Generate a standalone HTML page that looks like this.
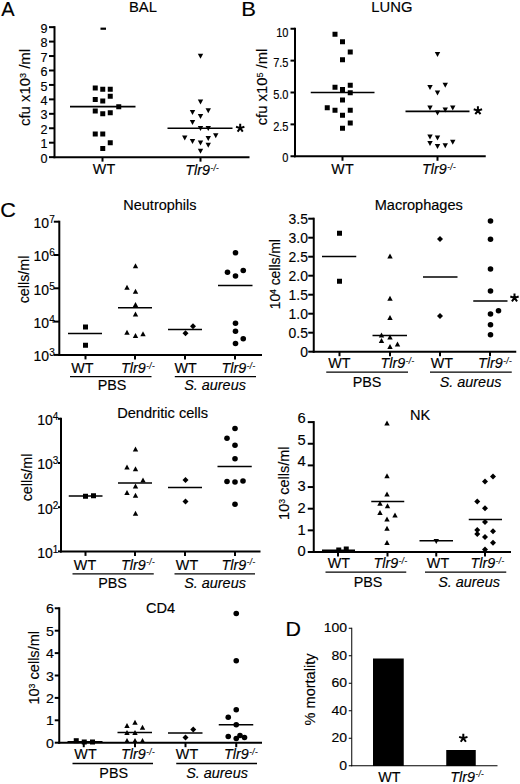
<!DOCTYPE html>
<html><head><meta charset="utf-8"><title>Figure</title>
<style>
html,body{margin:0;padding:0;background:#fff;}
body{width:520px;height:784px;overflow:hidden;font-family:"Liberation Sans",sans-serif;}
svg{display:block;}
svg text{font-family:"Liberation Sans",sans-serif;fill:#000;stroke:#000;stroke-width:0.15px;}
</style></head><body>
<svg width="520" height="784" viewBox="0 0 520 784">
<rect width="520" height="784" fill="#fff"/>
<g fill="#000">
<text transform="translate(1.2,16.2) scale(1.0,1)" font-size="20" text-anchor="start" >A</text>
<text transform="translate(129,11.9) scale(1.0,1)" font-size="14.8" text-anchor="start" >BAL</text>
<line x1="54.5" y1="26.15" x2="54.5" y2="158.15" stroke="#000" stroke-width="2.0"/>
<line x1="53.5" y1="157.15" x2="249.5" y2="157.15" stroke="#000" stroke-width="2.0"/>
<line x1="49.0" y1="157.15" x2="54.5" y2="157.15" stroke="#000" stroke-width="2.0"/>
<text transform="translate(47.5,162.75) scale(1.05,1)" font-size="12" text-anchor="end" >0</text>
<line x1="49.0" y1="142.70555555555555" x2="54.5" y2="142.70555555555555" stroke="#000" stroke-width="2.0"/>
<text transform="translate(47.5,148.30555555555554) scale(1.05,1)" font-size="12" text-anchor="end" >1</text>
<line x1="49.0" y1="128.26111111111112" x2="54.5" y2="128.26111111111112" stroke="#000" stroke-width="2.0"/>
<text transform="translate(47.5,133.86111111111111) scale(1.05,1)" font-size="12" text-anchor="end" >2</text>
<line x1="49.0" y1="113.81666666666666" x2="54.5" y2="113.81666666666666" stroke="#000" stroke-width="2.0"/>
<text transform="translate(47.5,119.41666666666666) scale(1.05,1)" font-size="12" text-anchor="end" >3</text>
<line x1="49.0" y1="99.37222222222223" x2="54.5" y2="99.37222222222223" stroke="#000" stroke-width="2.0"/>
<text transform="translate(47.5,104.97222222222223) scale(1.05,1)" font-size="12" text-anchor="end" >4</text>
<line x1="49.0" y1="84.92777777777778" x2="54.5" y2="84.92777777777778" stroke="#000" stroke-width="2.0"/>
<text transform="translate(47.5,90.52777777777777) scale(1.05,1)" font-size="12" text-anchor="end" >5</text>
<line x1="49.0" y1="70.48333333333333" x2="54.5" y2="70.48333333333333" stroke="#000" stroke-width="2.0"/>
<text transform="translate(47.5,76.08333333333333) scale(1.05,1)" font-size="12" text-anchor="end" >6</text>
<line x1="49.0" y1="56.03888888888889" x2="54.5" y2="56.03888888888889" stroke="#000" stroke-width="2.0"/>
<text transform="translate(47.5,61.63888888888889) scale(1.05,1)" font-size="12" text-anchor="end" >7</text>
<line x1="49.0" y1="41.59444444444445" x2="54.5" y2="41.59444444444445" stroke="#000" stroke-width="2.0"/>
<text transform="translate(47.5,47.19444444444445) scale(1.05,1)" font-size="12" text-anchor="end" >8</text>
<line x1="49.0" y1="27.150000000000006" x2="54.5" y2="27.150000000000006" stroke="#000" stroke-width="2.0"/>
<text transform="translate(47.5,32.75000000000001) scale(1.05,1)" font-size="12" text-anchor="end" >9</text>
<line x1="102.5" y1="157.15" x2="102.5" y2="161.65" stroke="#000" stroke-width="2.0"/>
<line x1="200.5" y1="157.15" x2="200.5" y2="161.65" stroke="#000" stroke-width="2.0"/>
<text transform="translate(104,174.4) scale(0.97,1)" font-size="14.8" text-anchor="middle" >WT</text>
<text transform="translate(202.2,174.8) scale(0.97,1)" font-size="14.8" text-anchor="middle" ><tspan font-style="italic">Tlr9</tspan><tspan font-style="italic" font-size="8.2" dy="-4.3" dx="0.5" letter-spacing="0.4">-/-</tspan></text>
<text transform="translate(30.4,87.5) rotate(-90) scale(1.027,1)" font-size="14.5" text-anchor="middle" >cfu x10<tspan font-size="8.8" dy="-4.3">3</tspan><tspan dy="4.3"> /ml</tspan></text>
<line x1="70" y1="106.6" x2="135.5" y2="106.6" stroke="#000" stroke-width="1.6"/>
<line x1="167.5" y1="128.2" x2="232.5" y2="128.2" stroke="#000" stroke-width="1.6"/>
<path d="M240.20 128.10L240.20 123.70M240.20 128.10L244.38 126.74M240.20 128.10L242.79 131.66M240.20 128.10L237.61 131.66M240.20 128.10L236.02 126.74" stroke="#000" stroke-width="2" fill="none"/>
<rect x="100.5" y="27.6" width="5.5" height="2.2"/>
<rect x="92.75" y="85.50" width="5" height="5"/>
<rect x="100.25" y="86.75" width="5" height="5"/>
<rect x="107.75" y="86.75" width="5" height="5"/>
<rect x="107.75" y="93.75" width="5" height="5"/>
<rect x="92.75" y="97.00" width="5" height="5"/>
<rect x="100.25" y="98.50" width="5" height="5"/>
<rect x="116.25" y="104.25" width="5" height="5"/>
<rect x="92.75" y="108.50" width="5" height="5"/>
<rect x="100.25" y="111.25" width="5" height="5"/>
<rect x="107.75" y="110.25" width="5" height="5"/>
<rect x="92.75" y="131.50" width="5" height="5"/>
<rect x="100.25" y="131.50" width="5" height="5"/>
<rect x="107.75" y="140.25" width="5" height="5"/>
<rect x="100.25" y="146.00" width="5" height="5"/>
<path d="M197.80 53.80L203.20 53.80L200.5 58.80Z"/>
<path d="M197.80 99.50L203.20 99.50L200.5 104.50Z"/>
<path d="M189.80 110.05L195.20 110.05L192.5 115.05Z"/>
<path d="M205.55 108.30L210.95 108.30L208.25 113.30Z"/>
<path d="M197.80 114.05L203.20 114.05L200.5 119.05Z"/>
<path d="M189.80 120.05L195.20 120.05L192.5 125.05Z"/>
<path d="M197.80 126.05L203.20 126.05L200.5 131.05Z"/>
<path d="M205.55 126.05L210.95 126.05L208.25 131.05Z"/>
<path d="M213.05 133.30L218.45 133.30L215.75 138.30Z"/>
<path d="M182.05 135.55L187.45 135.55L184.75 140.55Z"/>
<path d="M189.80 139.05L195.20 139.05L192.5 144.05Z"/>
<path d="M205.55 136.05L210.95 136.05L208.25 141.05Z"/>
<path d="M197.80 140.55L203.20 140.55L200.5 145.55Z"/>
<path d="M205.55 142.80L210.95 142.80L208.25 147.80Z"/>
<path d="M197.80 148.80L203.20 148.80L200.5 153.80Z"/>
<text transform="translate(241.2,15.9) scale(1.1,1)" font-size="20" text-anchor="start" >B</text>
<text transform="translate(371.3,11.7) scale(1.0,1)" font-size="14.8" text-anchor="start" >LUNG</text>
<line x1="295" y1="27.75" x2="295" y2="157.25" stroke="#000" stroke-width="2.0"/>
<line x1="294.0" y1="156.25" x2="485.75" y2="156.25" stroke="#000" stroke-width="2.0"/>
<line x1="290.5" y1="156.25" x2="295" y2="156.25" stroke="#000" stroke-width="2.0"/>
<text transform="translate(288.5,161.65) scale(0.92,1)" font-size="12" text-anchor="end" >0</text>
<line x1="290.5" y1="124.375" x2="295" y2="124.375" stroke="#000" stroke-width="2.0"/>
<text transform="translate(288.5,130.775) scale(0.92,1)" font-size="12" text-anchor="end" >2.5</text>
<line x1="290.5" y1="92.5" x2="295" y2="92.5" stroke="#000" stroke-width="2.0"/>
<text transform="translate(288.5,98.9) scale(0.92,1)" font-size="12" text-anchor="end" >5.0</text>
<line x1="290.5" y1="60.625" x2="295" y2="60.625" stroke="#000" stroke-width="2.0"/>
<text transform="translate(288.5,67.025) scale(0.92,1)" font-size="12" text-anchor="end" >7.5</text>
<line x1="290.5" y1="28.75" x2="295" y2="28.75" stroke="#000" stroke-width="2.0"/>
<text transform="translate(288.5,37.15) scale(0.92,1)" font-size="12" text-anchor="end" >10</text>
<line x1="342.5" y1="156.25" x2="342.5" y2="160.75" stroke="#000" stroke-width="2.0"/>
<line x1="437.5" y1="156.25" x2="437.5" y2="160.75" stroke="#000" stroke-width="2.0"/>
<text transform="translate(342.5,174) scale(0.97,1)" font-size="14.8" text-anchor="middle" >WT</text>
<text transform="translate(439,174.2) scale(0.97,1)" font-size="14.8" text-anchor="middle" ><tspan font-style="italic">Tlr9</tspan><tspan font-style="italic" font-size="8.2" dy="-4.3" dx="0.5" letter-spacing="0.4">-/-</tspan></text>
<text transform="translate(266.9,87) rotate(-90) scale(1.022,1)" font-size="14.5" text-anchor="middle" >cfu x10<tspan font-size="8.8" dy="-4.3">5</tspan><tspan dy="4.3"> /ml</tspan></text>
<line x1="310.75" y1="92.5" x2="374.5" y2="92.5" stroke="#000" stroke-width="1.6"/>
<line x1="405.5" y1="111.4" x2="469.5" y2="111.4" stroke="#000" stroke-width="1.6"/>
<path d="M477.90 110.60L477.90 106.20M477.90 110.60L482.08 109.24M477.90 110.60L480.49 114.16M477.90 110.60L475.31 114.16M477.90 110.60L473.72 109.24" stroke="#000" stroke-width="2" fill="none"/>
<rect x="332.50" y="31.75" width="5" height="5"/>
<rect x="340.00" y="39.25" width="5" height="5"/>
<rect x="347.75" y="49.50" width="5" height="5"/>
<rect x="340.00" y="57.25" width="5" height="5"/>
<rect x="332.50" y="84.75" width="5" height="5"/>
<rect x="340.00" y="87.00" width="5" height="5"/>
<rect x="347.75" y="82.75" width="5" height="5"/>
<rect x="347.75" y="90.25" width="5" height="5"/>
<rect x="340.00" y="97.50" width="5" height="5"/>
<rect x="324.75" y="105.25" width="5" height="5"/>
<rect x="332.50" y="107.75" width="5" height="5"/>
<rect x="347.75" y="107.75" width="5" height="5"/>
<rect x="340.00" y="112.75" width="5" height="5"/>
<rect x="347.75" y="120.50" width="5" height="5"/>
<rect x="340.00" y="125.75" width="5" height="5"/>
<path d="M434.80 52.05L440.20 52.05L437.5 57.05Z"/>
<path d="M427.30 85.05L432.70 85.05L430 90.05Z"/>
<path d="M442.55 82.80L447.95 82.80L445.25 87.80Z"/>
<path d="M434.80 90.55L440.20 90.55L437.5 95.55Z"/>
<path d="M427.30 105.55L432.70 105.55L430 110.55Z"/>
<path d="M442.55 107.55L447.95 107.55L445.25 112.55Z"/>
<path d="M450.05 105.55L455.45 105.55L452.75 110.55Z"/>
<path d="M434.80 110.55L440.20 110.55L437.5 115.55Z"/>
<path d="M427.30 134.55L432.70 134.55L430 139.55Z"/>
<path d="M434.80 135.55L440.20 135.55L437.5 140.55Z"/>
<path d="M427.30 141.05L432.70 141.05L430 146.05Z"/>
<path d="M450.05 139.80L455.45 139.80L452.75 144.80Z"/>
<path d="M434.80 144.05L440.20 144.05L437.5 149.05Z"/>
<path d="M442.55 143.30L447.95 143.30L445.25 148.30Z"/>
<text transform="translate(0.2,216.6) scale(1.08,1)" font-size="20" text-anchor="start" >C</text>
<text transform="translate(123.3,210.3) scale(1.035,1)" font-size="14" text-anchor="start" >Neutrophils</text>
<line x1="59.3" y1="220.7" x2="59.3" y2="355.9" stroke="#000" stroke-width="2.0"/>
<line x1="58.3" y1="354.9" x2="262" y2="354.9" stroke="#000" stroke-width="2.0"/>
<line x1="85.5" y1="354.9" x2="85.5" y2="359.4" stroke="#000" stroke-width="2.0"/>
<line x1="135" y1="354.9" x2="135" y2="359.4" stroke="#000" stroke-width="2.0"/>
<line x1="185" y1="354.9" x2="185" y2="359.4" stroke="#000" stroke-width="2.0"/>
<line x1="235" y1="354.9" x2="235" y2="359.4" stroke="#000" stroke-width="2.0"/>
<text transform="translate(82.3,373.0) scale(0.97,1)" font-size="14.8" text-anchor="middle" >WT</text>
<text transform="translate(185.7,373.0) scale(0.97,1)" font-size="14.8" text-anchor="middle" >WT</text>
<text transform="translate(138,373.0) scale(0.97,1)" font-size="14.8" text-anchor="middle" ><tspan font-style="italic">Tlr9</tspan><tspan font-style="italic" font-size="8.2" dy="-4.3" dx="0.5" letter-spacing="0.4">-/-</tspan></text>
<text transform="translate(238.5,373.0) scale(0.97,1)" font-size="14.8" text-anchor="middle" ><tspan font-style="italic">Tlr9</tspan><tspan font-style="italic" font-size="8.2" dy="-4.3" dx="0.5" letter-spacing="0.4">-/-</tspan></text>
<line x1="70" y1="376.6" x2="151.5" y2="376.6" stroke="#000" stroke-width="1.3"/>
<line x1="174.8" y1="376.6" x2="256" y2="376.6" stroke="#000" stroke-width="1.3"/>
<text transform="translate(112,390.4) scale(0.97,1)" font-size="14.8" text-anchor="middle" >PBS</text>
<text transform="translate(215,390.4) scale(0.975,1)" font-size="14.8" text-anchor="middle" font-style="italic" >S. aureus</text>
<line x1="53.8" y1="354.9" x2="59.3" y2="354.9" stroke="#000" stroke-width="2.0"/>
<text transform="translate(54.7,361.2) scale(1.0,1)" font-size="14" text-anchor="end" >10<tspan font-size="10" dy="-5">3</tspan></text>
<line x1="53.8" y1="321.59999999999997" x2="59.3" y2="321.59999999999997" stroke="#000" stroke-width="2.0"/>
<text transform="translate(54.7,327.9) scale(1.0,1)" font-size="14" text-anchor="end" >10<tspan font-size="10" dy="-5">4</tspan></text>
<line x1="53.8" y1="288.29999999999995" x2="59.3" y2="288.29999999999995" stroke="#000" stroke-width="2.0"/>
<text transform="translate(54.7,294.59999999999997) scale(1.0,1)" font-size="14" text-anchor="end" >10<tspan font-size="10" dy="-5">5</tspan></text>
<line x1="53.8" y1="255.0" x2="59.3" y2="255.0" stroke="#000" stroke-width="2.0"/>
<text transform="translate(54.7,261.3) scale(1.0,1)" font-size="14" text-anchor="end" >10<tspan font-size="10" dy="-5">6</tspan></text>
<line x1="53.8" y1="221.7" x2="59.3" y2="221.7" stroke="#000" stroke-width="2.0"/>
<text transform="translate(54.7,228.0) scale(1.0,1)" font-size="14" text-anchor="end" >10<tspan font-size="10" dy="-5">7</tspan></text>
<text transform="translate(28.7,279.5) rotate(-90) scale(0.986,1)" font-size="14.5" text-anchor="middle" >cells/ml</text>
<rect x="83.00" y="324.50" width="5" height="5"/>
<rect x="83.00" y="342.75" width="5" height="5"/>
<line x1="68" y1="333.5" x2="102" y2="333.5" stroke="#000" stroke-width="1.6"/>
<path d="M124.30 289.75L129.70 289.75L127 284.75Z"/>
<path d="M124.30 334.75L129.70 334.75L127 329.75Z"/>
<path d="M132.80 268.25L138.20 268.25L135.5 263.25Z"/>
<path d="M132.80 293.75L138.20 293.75L135.5 288.75Z"/>
<path d="M132.80 307.00L138.20 307.00L135.5 302.00Z"/>
<path d="M132.80 316.50L138.20 316.50L135.5 311.50Z"/>
<path d="M132.80 338.00L138.20 338.00L135.5 333.00Z"/>
<path d="M140.30 336.25L145.70 336.25L143 331.25Z"/>
<line x1="118" y1="307.75" x2="152" y2="307.75" stroke="#000" stroke-width="1.6"/>
<path d="M190.0 326.25L193 323.25L196.0 326.25L193 329.25Z"/>
<path d="M182.5 333.25L185.5 330.25L188.5 333.25L185.5 336.25Z"/>
<line x1="168" y1="329.5" x2="202" y2="329.5" stroke="#000" stroke-width="1.6"/>
<circle cx="235.5" cy="252.75" r="2.8"/>
<circle cx="227.5" cy="272.25" r="2.8"/>
<circle cx="243.25" cy="270.5" r="2.8"/>
<circle cx="235.5" cy="276" r="2.8"/>
<circle cx="235.5" cy="323.25" r="2.8"/>
<circle cx="235.5" cy="331.25" r="2.8"/>
<circle cx="243.25" cy="338.75" r="2.8"/>
<circle cx="235.5" cy="343.5" r="2.8"/>
<line x1="218" y1="285.5" x2="252.5" y2="285.5" stroke="#000" stroke-width="1.6"/>
<text transform="translate(374.7,210.3) scale(1.04,1)" font-size="14" text-anchor="start" >Macrophages</text>
<line x1="313.75" y1="217.7" x2="313.75" y2="352.7" stroke="#000" stroke-width="2.0"/>
<line x1="312.75" y1="351.7" x2="516.25" y2="351.7" stroke="#000" stroke-width="2.0"/>
<line x1="339.5" y1="351.7" x2="339.5" y2="356.2" stroke="#000" stroke-width="2.0"/>
<line x1="390" y1="351.7" x2="390" y2="356.2" stroke="#000" stroke-width="2.0"/>
<line x1="440" y1="351.7" x2="440" y2="356.2" stroke="#000" stroke-width="2.0"/>
<line x1="490" y1="351.7" x2="490" y2="356.2" stroke="#000" stroke-width="2.0"/>
<text transform="translate(339.4,368.0) scale(0.97,1)" font-size="14.8" text-anchor="middle" >WT</text>
<text transform="translate(441.9,368.0) scale(0.97,1)" font-size="14.8" text-anchor="middle" >WT</text>
<text transform="translate(397.5,368.0) scale(0.97,1)" font-size="14.8" text-anchor="middle" ><tspan font-style="italic">Tlr9</tspan><tspan font-style="italic" font-size="8.2" dy="-4.3" dx="0.5" letter-spacing="0.4">-/-</tspan></text>
<text transform="translate(495,368.0) scale(0.97,1)" font-size="14.8" text-anchor="middle" ><tspan font-style="italic">Tlr9</tspan><tspan font-style="italic" font-size="8.2" dy="-4.3" dx="0.5" letter-spacing="0.4">-/-</tspan></text>
<line x1="326.25" y1="372.2" x2="408" y2="372.2" stroke="#000" stroke-width="1.3"/>
<line x1="430" y1="372.2" x2="511.75" y2="372.2" stroke="#000" stroke-width="1.3"/>
<text transform="translate(367,386.9) scale(0.97,1)" font-size="14.8" text-anchor="middle" >PBS</text>
<text transform="translate(470.5,386.9) scale(0.975,1)" font-size="14.8" text-anchor="middle" font-style="italic" >S. aureus</text>
<line x1="308.25" y1="351.7" x2="313.75" y2="351.7" stroke="#000" stroke-width="2.0"/>
<text transform="translate(308,356.9) scale(0.93,1)" font-size="15" text-anchor="end" >0</text>
<line x1="308.25" y1="332.7" x2="313.75" y2="332.7" stroke="#000" stroke-width="2.0"/>
<text transform="translate(308,337.9) scale(0.93,1)" font-size="15" text-anchor="end" >0.5</text>
<line x1="308.25" y1="313.7" x2="313.75" y2="313.7" stroke="#000" stroke-width="2.0"/>
<text transform="translate(308,318.9) scale(0.93,1)" font-size="15" text-anchor="end" >1.0</text>
<line x1="308.25" y1="294.7" x2="313.75" y2="294.7" stroke="#000" stroke-width="2.0"/>
<text transform="translate(308,299.9) scale(0.93,1)" font-size="15" text-anchor="end" >1.5</text>
<line x1="308.25" y1="275.7" x2="313.75" y2="275.7" stroke="#000" stroke-width="2.0"/>
<text transform="translate(308,280.9) scale(0.93,1)" font-size="15" text-anchor="end" >2.0</text>
<line x1="308.25" y1="256.7" x2="313.75" y2="256.7" stroke="#000" stroke-width="2.0"/>
<text transform="translate(308,261.9) scale(0.93,1)" font-size="15" text-anchor="end" >2.5</text>
<line x1="308.25" y1="237.7" x2="313.75" y2="237.7" stroke="#000" stroke-width="2.0"/>
<text transform="translate(308,242.89999999999998) scale(0.93,1)" font-size="15" text-anchor="end" >3.0</text>
<line x1="308.25" y1="218.7" x2="313.75" y2="218.7" stroke="#000" stroke-width="2.0"/>
<text transform="translate(308,223.89999999999998) scale(0.93,1)" font-size="15" text-anchor="end" >3.5</text>
<text transform="translate(280.4,274.2) rotate(-90) scale(0.959,1)" font-size="14.5" text-anchor="middle" >10<tspan font-size="8.8" dy="-4.3">4</tspan><tspan dy="4.3"> cells/ml</tspan></text>
<rect x="337.00" y="230.75" width="5" height="5"/>
<rect x="337.00" y="278.75" width="5" height="5"/>
<line x1="322" y1="256.5" x2="356.25" y2="256.5" stroke="#000" stroke-width="1.6"/>
<path d="M387.30 258.50L392.70 258.50L390 253.50Z"/>
<path d="M387.30 300.75L392.70 300.75L390 295.75Z"/>
<path d="M387.30 320.00L392.70 320.00L390 315.00Z"/>
<path d="M378.80 342.90L384.20 342.90L381.5 337.90Z"/>
<path d="M378.80 337.50L384.20 337.50L381.5 332.50Z"/>
<path d="M394.80 346.50L400.20 346.50L397.5 341.50Z"/>
<path d="M387.30 349.10L392.70 349.10L390 344.10Z"/>
<path d="M387.30 339.50L392.70 339.50L390 334.50Z"/>
<line x1="372.5" y1="335.5" x2="407" y2="335.5" stroke="#000" stroke-width="1.6"/>
<path d="M437.0 239L440 236.0L443.0 239L440 242.0Z"/>
<path d="M437.0 316L440 313.0L443.0 316L440 319.0Z"/>
<line x1="423" y1="277" x2="457.5" y2="277" stroke="#000" stroke-width="1.6"/>
<circle cx="490.5" cy="221" r="2.8"/>
<circle cx="490.5" cy="239.25" r="2.8"/>
<circle cx="490.5" cy="269" r="2.8"/>
<circle cx="490.5" cy="291" r="2.8"/>
<circle cx="490.5" cy="314" r="2.8"/>
<circle cx="498.5" cy="310.75" r="2.8"/>
<circle cx="490.5" cy="324.75" r="2.8"/>
<circle cx="490.5" cy="334.75" r="2.8"/>
<line x1="473.25" y1="301" x2="507.5" y2="301" stroke="#000" stroke-width="1.6"/>
<path d="M514.50 297.90L514.50 293.50M514.50 297.90L518.68 296.54M514.50 297.90L517.09 301.46M514.50 297.90L511.91 301.46M514.50 297.90L510.32 296.54" stroke="#000" stroke-width="2" fill="none"/>
<text transform="translate(117.2,418.2) scale(1.045,1)" font-size="14" text-anchor="start" >Dendritic cells</text>
<line x1="61" y1="417.79999999999995" x2="61" y2="552.4" stroke="#000" stroke-width="2.0"/>
<line x1="60.0" y1="551.4" x2="260.5" y2="551.4" stroke="#000" stroke-width="2.0"/>
<line x1="85.5" y1="551.4" x2="85.5" y2="555.9" stroke="#000" stroke-width="2.0"/>
<line x1="135" y1="551.4" x2="135" y2="555.9" stroke="#000" stroke-width="2.0"/>
<line x1="185" y1="551.4" x2="185" y2="555.9" stroke="#000" stroke-width="2.0"/>
<line x1="235" y1="551.4" x2="235" y2="555.9" stroke="#000" stroke-width="2.0"/>
<text transform="translate(85,569.7) scale(0.97,1)" font-size="14.8" text-anchor="middle" >WT</text>
<text transform="translate(187,569.7) scale(0.97,1)" font-size="14.8" text-anchor="middle" >WT</text>
<text transform="translate(138,569.7) scale(0.97,1)" font-size="14.8" text-anchor="middle" ><tspan font-style="italic">Tlr9</tspan><tspan font-style="italic" font-size="8.2" dy="-4.3" dx="0.5" letter-spacing="0.4">-/-</tspan></text>
<text transform="translate(238.5,569.7) scale(0.97,1)" font-size="14.8" text-anchor="middle" ><tspan font-style="italic">Tlr9</tspan><tspan font-style="italic" font-size="8.2" dy="-4.3" dx="0.5" letter-spacing="0.4">-/-</tspan></text>
<line x1="72.5" y1="573.8" x2="153.75" y2="573.8" stroke="#000" stroke-width="1.3"/>
<line x1="174.5" y1="573.8" x2="255" y2="573.8" stroke="#000" stroke-width="1.3"/>
<text transform="translate(112.5,587.6999999999999) scale(0.97,1)" font-size="14.8" text-anchor="middle" >PBS</text>
<text transform="translate(215,587.6999999999999) scale(0.975,1)" font-size="14.8" text-anchor="middle" font-style="italic" >S. aureus</text>
<line x1="58" y1="551.4" x2="61" y2="551.4" stroke="#000" stroke-width="2.0"/>
<text transform="translate(58.3,557.6999999999999) scale(1.0,1)" font-size="14" text-anchor="end" >10<tspan font-size="10" dy="-5">1</tspan></text>
<line x1="58" y1="507.2" x2="61" y2="507.2" stroke="#000" stroke-width="2.0"/>
<text transform="translate(58.3,513.5) scale(1.0,1)" font-size="14" text-anchor="end" >10<tspan font-size="10" dy="-5">2</tspan></text>
<line x1="58" y1="463.0" x2="61" y2="463.0" stroke="#000" stroke-width="2.0"/>
<text transform="translate(58.3,469.3) scale(1.0,1)" font-size="14" text-anchor="end" >10<tspan font-size="10" dy="-5">3</tspan></text>
<line x1="58" y1="418.79999999999995" x2="61" y2="418.79999999999995" stroke="#000" stroke-width="2.0"/>
<text transform="translate(58.3,425.09999999999997) scale(1.0,1)" font-size="14" text-anchor="end" >10<tspan font-size="10" dy="-5">4</tspan></text>
<text transform="translate(31.7,477.5) rotate(-90) scale(0.986,1)" font-size="14.5" text-anchor="middle" >cells/ml</text>
<rect x="83.00" y="493.75" width="5" height="5"/>
<rect x="91.00" y="493.25" width="5" height="5"/>
<line x1="68.75" y1="496" x2="102.5" y2="496" stroke="#000" stroke-width="1.6"/>
<path d="M124.30 469.50L129.70 469.50L127 464.50Z"/>
<path d="M124.30 495.00L129.70 495.00L127 490.00Z"/>
<path d="M132.80 451.50L138.20 451.50L135.5 446.50Z"/>
<path d="M132.80 471.25L138.20 471.25L135.5 466.25Z"/>
<path d="M140.30 482.50L145.70 482.50L143 477.50Z"/>
<path d="M132.80 488.50L138.20 488.50L135.5 483.50Z"/>
<path d="M132.80 497.75L138.20 497.75L135.5 492.75Z"/>
<path d="M132.80 515.75L138.20 515.75L135.5 510.75Z"/>
<line x1="118" y1="483" x2="152" y2="483" stroke="#000" stroke-width="1.6"/>
<path d="M182.5 480L185.5 477.0L188.5 480L185.5 483.0Z"/>
<path d="M182.5 501.5L185.5 498.5L188.5 501.5L185.5 504.5Z"/>
<line x1="168" y1="487.5" x2="202" y2="487.5" stroke="#000" stroke-width="1.6"/>
<circle cx="235" cy="428.5" r="2.8"/>
<circle cx="227" cy="438.25" r="2.8"/>
<circle cx="235" cy="445.25" r="2.8"/>
<circle cx="235" cy="458.75" r="2.8"/>
<circle cx="227" cy="481.5" r="2.8"/>
<circle cx="235" cy="482" r="2.8"/>
<circle cx="243" cy="481" r="2.8"/>
<circle cx="235" cy="504.25" r="2.8"/>
<line x1="217.5" y1="466.5" x2="251.75" y2="466.5" stroke="#000" stroke-width="1.6"/>
<text transform="translate(410,419.6) scale(1.04,1)" font-size="14" text-anchor="start" >NK</text>
<line x1="313.75" y1="421.1" x2="313.75" y2="553.0" stroke="#000" stroke-width="2.0"/>
<line x1="312.75" y1="552.0" x2="511" y2="552.0" stroke="#000" stroke-width="2.0"/>
<line x1="338" y1="552.0" x2="338" y2="556.5" stroke="#000" stroke-width="2.0"/>
<line x1="387.5" y1="552.0" x2="387.5" y2="556.5" stroke="#000" stroke-width="2.0"/>
<line x1="436.25" y1="552.0" x2="436.25" y2="556.5" stroke="#000" stroke-width="2.0"/>
<line x1="485" y1="552.0" x2="485" y2="556.5" stroke="#000" stroke-width="2.0"/>
<text transform="translate(338.8,568.4000000000001) scale(0.97,1)" font-size="14.8" text-anchor="middle" >WT</text>
<text transform="translate(438,568.4000000000001) scale(0.97,1)" font-size="14.8" text-anchor="middle" >WT</text>
<text transform="translate(390.5,568.4000000000001) scale(0.97,1)" font-size="14.8" text-anchor="middle" ><tspan font-style="italic">Tlr9</tspan><tspan font-style="italic" font-size="8.2" dy="-4.3" dx="0.5" letter-spacing="0.4">-/-</tspan></text>
<text transform="translate(487.5,568.4000000000001) scale(0.97,1)" font-size="14.8" text-anchor="middle" ><tspan font-style="italic">Tlr9</tspan><tspan font-style="italic" font-size="8.2" dy="-4.3" dx="0.5" letter-spacing="0.4">-/-</tspan></text>
<line x1="325.5" y1="572.2" x2="406.25" y2="572.2" stroke="#000" stroke-width="1.3"/>
<line x1="425" y1="572.2" x2="506.25" y2="572.2" stroke="#000" stroke-width="1.3"/>
<text transform="translate(368,586.8) scale(0.97,1)" font-size="14.8" text-anchor="middle" >PBS</text>
<text transform="translate(469,586.8) scale(0.975,1)" font-size="14.8" text-anchor="middle" font-style="italic" >S. aureus</text>
<line x1="307.75" y1="552.0" x2="313.75" y2="552.0" stroke="#000" stroke-width="2.0"/>
<text transform="translate(305.6,556.2) scale(0.98,1)" font-size="15" text-anchor="end" >0</text>
<line x1="307.75" y1="530.35" x2="313.75" y2="530.35" stroke="#000" stroke-width="2.0"/>
<text transform="translate(305.6,534.5500000000001) scale(0.98,1)" font-size="15" text-anchor="end" >1</text>
<line x1="307.75" y1="508.7" x2="313.75" y2="508.7" stroke="#000" stroke-width="2.0"/>
<text transform="translate(305.6,512.9) scale(0.98,1)" font-size="15" text-anchor="end" >2</text>
<line x1="307.75" y1="487.05" x2="313.75" y2="487.05" stroke="#000" stroke-width="2.0"/>
<text transform="translate(305.6,491.25) scale(0.98,1)" font-size="15" text-anchor="end" >3</text>
<line x1="307.75" y1="465.4" x2="313.75" y2="465.4" stroke="#000" stroke-width="2.0"/>
<text transform="translate(305.6,466.4) scale(0.98,1)" font-size="15" text-anchor="end" >4</text>
<line x1="307.75" y1="443.75" x2="313.75" y2="443.75" stroke="#000" stroke-width="2.0"/>
<text transform="translate(305.6,444.75) scale(0.98,1)" font-size="15" text-anchor="end" >5</text>
<line x1="307.75" y1="422.1" x2="313.75" y2="422.1" stroke="#000" stroke-width="2.0"/>
<text transform="translate(305.6,423.1) scale(0.98,1)" font-size="15" text-anchor="end" >6</text>
<text transform="translate(288.9,483.2) rotate(-90) scale(1.0,1)" font-size="14.5" text-anchor="middle" >10<tspan font-size="8.8" dy="-4.3">3</tspan><tspan dy="4.3"> cells/ml</tspan></text>
<rect x="336.25" y="547.50" width="5" height="5"/>
<rect x="343.75" y="546.50" width="5" height="5"/>
<line x1="322" y1="550.25" x2="355" y2="550.25" stroke="#000" stroke-width="1.6"/>
<path d="M384.30 425.50L389.70 425.50L387 420.50Z"/>
<path d="M384.30 478.25L389.70 478.25L387 473.25Z"/>
<path d="M384.30 496.50L389.70 496.50L387 491.50Z"/>
<path d="M377.30 505.75L382.70 505.75L380 500.75Z"/>
<path d="M384.80 508.25L390.20 508.25L387.5 503.25Z"/>
<path d="M377.30 515.00L382.70 515.00L380 510.00Z"/>
<path d="M384.30 521.50L389.70 521.50L387 516.50Z"/>
<path d="M384.30 530.75L389.70 530.75L387 525.75Z"/>
<path d="M384.30 545.00L389.70 545.00L387 540.00Z"/>
<path d="M392.30 517.50L397.70 517.50L395 512.50Z"/>
<line x1="371.25" y1="501.5" x2="404.25" y2="501.5" stroke="#000" stroke-width="1.6"/>
<path d="M433.55 539.05L438.95 539.05L436.25 544.05Z"/>
<line x1="419.5" y1="540.75" x2="453" y2="540.75" stroke="#000" stroke-width="1.6"/>
<path d="M490.0 476.5L493 473.5L496.0 476.5L493 479.5Z"/>
<path d="M482.0 481.5L485 478.5L488.0 481.5L485 484.5Z"/>
<path d="M474.25 501.5L477.25 498.5L480.25 501.5L477.25 504.5Z"/>
<path d="M482.0 508.25L485 505.25L488.0 508.25L485 511.25Z"/>
<path d="M482.0 522L485 519.0L488.0 522L485 525.0Z"/>
<path d="M474.25 530L477.25 527.0L480.25 530L477.25 533.0Z"/>
<path d="M474.25 534L477.25 531.0L480.25 534L477.25 537.0Z"/>
<path d="M490.0 531.25L493 528.25L496.0 531.25L493 534.25Z"/>
<path d="M482.0 537L485 534.0L488.0 537L485 540.0Z"/>
<path d="M490.0 542.75L493 539.75L496.0 542.75L493 545.75Z"/>
<path d="M482.0 549.5L485 546.5L488.0 549.5L485 552.5Z"/>
<line x1="468.75" y1="519.5" x2="502" y2="519.5" stroke="#000" stroke-width="1.6"/>
<text transform="translate(146,613.4) scale(1.0,1)" font-size="14.6" text-anchor="start" >CD4</text>
<line x1="59.25" y1="607.3000000000001" x2="59.25" y2="743.7" stroke="#000" stroke-width="2.0"/>
<line x1="58.25" y1="742.7" x2="262" y2="742.7" stroke="#000" stroke-width="2.0"/>
<line x1="83.75" y1="742.7" x2="83.75" y2="747.2" stroke="#000" stroke-width="2.0"/>
<line x1="135" y1="742.7" x2="135" y2="747.2" stroke="#000" stroke-width="2.0"/>
<line x1="185.5" y1="742.7" x2="185.5" y2="747.2" stroke="#000" stroke-width="2.0"/>
<line x1="236.25" y1="742.7" x2="236.25" y2="747.2" stroke="#000" stroke-width="2.0"/>
<text transform="translate(85.5,759.4000000000001) scale(0.97,1)" font-size="14.8" text-anchor="middle" >WT</text>
<text transform="translate(187,759.4000000000001) scale(0.97,1)" font-size="14.8" text-anchor="middle" >WT</text>
<text transform="translate(138,759.4000000000001) scale(0.97,1)" font-size="14.8" text-anchor="middle" ><tspan font-style="italic">Tlr9</tspan><tspan font-style="italic" font-size="8.2" dy="-4.3" dx="0.5" letter-spacing="0.4">-/-</tspan></text>
<text transform="translate(241,759.4000000000001) scale(0.97,1)" font-size="14.8" text-anchor="middle" ><tspan font-style="italic">Tlr9</tspan><tspan font-style="italic" font-size="8.2" dy="-4.3" dx="0.5" letter-spacing="0.4">-/-</tspan></text>
<line x1="72.5" y1="763.5" x2="153" y2="763.5" stroke="#000" stroke-width="1.3"/>
<line x1="176.25" y1="763.5" x2="257" y2="763.5" stroke="#000" stroke-width="1.3"/>
<text transform="translate(113.7,777.9) scale(0.97,1)" font-size="14.8" text-anchor="middle" >PBS</text>
<text transform="translate(217,777.9) scale(0.975,1)" font-size="14.8" text-anchor="middle" font-style="italic" >S. aureus</text>
<line x1="54.75" y1="742.7" x2="59.25" y2="742.7" stroke="#000" stroke-width="2.0"/>
<text transform="translate(54,747.7) scale(1.05,1)" font-size="13.5" text-anchor="end" >0</text>
<line x1="54.75" y1="720.3000000000001" x2="59.25" y2="720.3000000000001" stroke="#000" stroke-width="2.0"/>
<text transform="translate(54,725.3000000000001) scale(1.05,1)" font-size="13.5" text-anchor="end" >1</text>
<line x1="54.75" y1="697.9000000000001" x2="59.25" y2="697.9000000000001" stroke="#000" stroke-width="2.0"/>
<text transform="translate(54,702.9000000000001) scale(1.05,1)" font-size="13.5" text-anchor="end" >2</text>
<line x1="54.75" y1="675.5" x2="59.25" y2="675.5" stroke="#000" stroke-width="2.0"/>
<text transform="translate(54,680.5) scale(1.05,1)" font-size="13.5" text-anchor="end" >3</text>
<line x1="54.75" y1="653.1" x2="59.25" y2="653.1" stroke="#000" stroke-width="2.0"/>
<text transform="translate(54,658.1) scale(1.05,1)" font-size="13.5" text-anchor="end" >4</text>
<line x1="54.75" y1="630.7" x2="59.25" y2="630.7" stroke="#000" stroke-width="2.0"/>
<text transform="translate(54,635.7) scale(1.05,1)" font-size="13.5" text-anchor="end" >5</text>
<line x1="54.75" y1="608.3000000000001" x2="59.25" y2="608.3000000000001" stroke="#000" stroke-width="2.0"/>
<text transform="translate(54,613.3000000000001) scale(1.05,1)" font-size="13.5" text-anchor="end" >6</text>
<text transform="translate(39.4,667.8) rotate(-90) scale(1.004,1)" font-size="14.5" text-anchor="middle" >10<tspan font-size="8.8" dy="-4.3">3</tspan><tspan dy="4.3"> cells/ml</tspan></text>
<rect x="73.75" y="738.20" width="5" height="5"/>
<rect x="81.75" y="739.50" width="5" height="5"/>
<rect x="90.00" y="739.50" width="5" height="5"/>
<line x1="67.5" y1="741.9" x2="102.5" y2="741.9" stroke="#000" stroke-width="1.6"/>
<path d="M124.30 728.00L129.70 728.00L127 723.00Z"/>
<path d="M124.30 735.00L129.70 735.00L127 730.00Z"/>
<path d="M124.30 743.00L129.70 743.00L127 738.00Z"/>
<path d="M132.30 724.75L137.70 724.75L135 719.75Z"/>
<path d="M139.80 729.75L145.20 729.75L142.5 724.75Z"/>
<path d="M132.30 735.00L137.70 735.00L135 730.00Z"/>
<path d="M132.30 743.00L137.70 743.00L135 738.00Z"/>
<path d="M139.80 743.00L145.20 743.00L142.5 738.00Z"/>
<line x1="117.5" y1="732.5" x2="152" y2="732.5" stroke="#000" stroke-width="1.6"/>
<path d="M190.25 729.5L193.25 726.5L196.25 729.5L193.25 732.5Z"/>
<path d="M182.5 737.5L185.5 734.5L188.5 737.5L185.5 740.5Z"/>
<line x1="168" y1="733" x2="202.5" y2="733" stroke="#000" stroke-width="1.6"/>
<circle cx="236.25" cy="613.5" r="2.8"/>
<circle cx="236.25" cy="660.75" r="2.8"/>
<circle cx="236.25" cy="709.75" r="2.8"/>
<circle cx="228.25" cy="717.25" r="2.8"/>
<circle cx="236.25" cy="724.75" r="2.8"/>
<circle cx="228.25" cy="736.5" r="2.8"/>
<circle cx="236.25" cy="738.5" r="2.8"/>
<circle cx="240" cy="735.5" r="2.8"/>
<circle cx="244.5" cy="737.5" r="2.8"/>
<line x1="218.75" y1="724.75" x2="253.25" y2="724.75" stroke="#000" stroke-width="1.6"/>
<text transform="translate(285.4,635.6) scale(1.07,1)" font-size="20" text-anchor="start" >D</text>
<line x1="351.75" y1="627.75" x2="351.75" y2="766.25" stroke="#000" stroke-width="1"/>
<line x1="351.25" y1="765.75" x2="497.5" y2="765.75" stroke="#000" stroke-width="1"/>
<line x1="348.75" y1="765.75" x2="351.75" y2="765.75" stroke="#000" stroke-width="1"/>
<text transform="translate(347,769.55) scale(1.03,1)" font-size="13.6" text-anchor="end" >0</text>
<line x1="348.75" y1="738.25" x2="351.75" y2="738.25" stroke="#000" stroke-width="1"/>
<text transform="translate(347,742.05) scale(1.03,1)" font-size="13.6" text-anchor="end" >20</text>
<line x1="348.75" y1="710.75" x2="351.75" y2="710.75" stroke="#000" stroke-width="1"/>
<text transform="translate(347,714.55) scale(1.03,1)" font-size="13.6" text-anchor="end" >40</text>
<line x1="348.75" y1="683.25" x2="351.75" y2="683.25" stroke="#000" stroke-width="1"/>
<text transform="translate(347,687.05) scale(1.03,1)" font-size="13.6" text-anchor="end" >60</text>
<line x1="348.75" y1="655.75" x2="351.75" y2="655.75" stroke="#000" stroke-width="1"/>
<text transform="translate(347,659.55) scale(1.03,1)" font-size="13.6" text-anchor="end" >80</text>
<line x1="348.75" y1="628.25" x2="351.75" y2="628.25" stroke="#000" stroke-width="1"/>
<text transform="translate(347,632.05) scale(1.03,1)" font-size="13.6" text-anchor="end" >100</text>
<text transform="translate(315.4,689.5) rotate(-90) scale(1.004,1)" font-size="14.5" text-anchor="middle" >% mortality</text>
<rect x="373" y="658.5" width="30.75" height="107.5"/>
<rect x="446.25" y="750" width="29.5" height="16"/>
<path d="M463.30 738.20L463.30 733.80M463.30 738.20L467.48 736.84M463.30 738.20L465.89 741.76M463.30 738.20L460.71 741.76M463.30 738.20L459.12 736.84" stroke="#000" stroke-width="2" fill="none"/>
<text transform="translate(389.3,781.5) scale(0.97,1)" font-size="14.8" text-anchor="middle" >WT</text>
<text transform="translate(467.2,781.7) scale(0.97,1)" font-size="14.8" text-anchor="middle" ><tspan font-style="italic">Tlr9</tspan><tspan font-style="italic" font-size="8.2" dy="-4.3" dx="0.5" letter-spacing="0.4">-/-</tspan></text>
</g>
</svg>
</body></html>
